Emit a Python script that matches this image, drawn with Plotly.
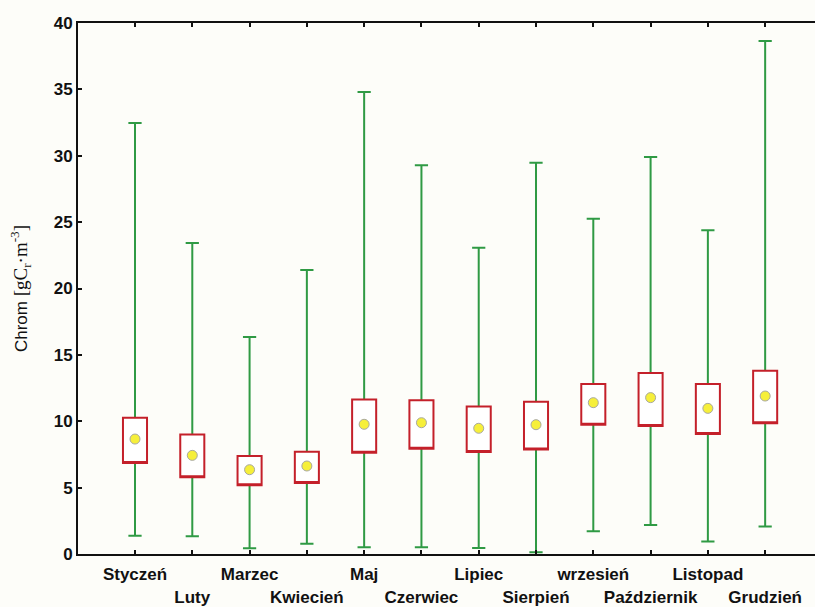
import plotly.graph_objects as go

months = ["Styczeń", "Luty", "Marzec", "Kwiecień", "Maj", "Czerwiec",
          "Lipiec", "Sierpień", "wrzesień", "Październik", "Listopad", "Grudzień"]
mean_vals = [8.66, 7.43, 6.35, 6.63, 9.77, 9.89, 9.47, 9.74, 11.40, 11.78, 10.97, 11.90]
box_low = [6.85, 5.78, 5.17, 5.35, 7.63, 7.93, 7.68, 7.88, 9.74, 9.64, 9.04, 9.84]
box_high = [10.27, 9.01, 7.38, 7.71, 11.63, 11.58, 11.12, 11.47, 12.81, 13.63, 12.81, 13.81]
min_vals = [1.38, 1.33, 0.43, 0.78, 0.50, 0.50, 0.45, 0.13, 1.71, 2.18, 0.95, 2.08]
max_vals = [32.47, 23.43, 16.35, 21.39, 34.80, 29.28, 23.07, 29.48, 25.26, 29.91, 24.38, 38.64]
y_ticks = [0, 5, 10, 15, 20, 25, 30, 35, 40]

pos = list(range(len(months)))
tick_text = [m if i % 2 == 0 else "<br>" + m for i, m in enumerate(months)]

GREEN = "#2f9a44"
RED = "#c4202a"
BG = "#fdfdf9"
FONT = "Liberation Sans, Arial, sans-serif"
SERIF = "Liberation Serif, Times New Roman, serif"

fig = go.Figure()

# whiskers (green), box collapsed to mean line, hidden under red box
fig.add_trace(go.Box(
    x=pos, q1=mean_vals, median=mean_vals, q3=mean_vals,
    lowerfence=min_vals, upperfence=max_vals,
    width=0.42, whiskerwidth=0.55,
    line=dict(color=GREEN, width=2), fillcolor="rgba(0,0,0,0)",
    boxpoints=False, showlegend=False, hoverinfo="skip"))

# red boxes
fig.add_trace(go.Box(
    x=pos, q1=box_low, median=box_low, q3=box_high,
    lowerfence=box_low, upperfence=box_high,
    width=0.42, whiskerwidth=0,
    line=dict(color=RED, width=2), fillcolor="white",
    boxpoints=False, showlegend=False, hoverinfo="skip"))

# mean markers
fig.add_trace(go.Scatter(
    x=pos, y=mean_vals, mode="markers",
    marker=dict(color="#f6ef3a", size=10, line=dict(color="#a8a8a0", width=1)),
    showlegend=False))

fig.update_layout(
    width=815, height=607,
    margin=dict(l=78, r=0, t=23, b=53),
    paper_bgcolor=BG, plot_bgcolor=BG,
    boxmode="overlay",
    font=dict(family=FONT, color="#111111"),
)
fig.update_xaxes(
    range=[-0.995, 11.87], tickvals=pos, ticktext=tick_text,
    tickangle=0, automargin=False, ticklabelstandoff=4,
    showline=True, linecolor="#111111", linewidth=2, mirror="ticks",
    ticks="inside", ticklen=4, tickcolor="#111111", tickwidth=2,
    showgrid=False, zeroline=False,
    tickfont=dict(size=17, family=FONT, weight="bold"),
)
fig.update_yaxes(
    range=[0, 40], tickvals=y_ticks, ticktext=[str(v) for v in y_ticks],
    automargin=False,
    showline=True, linecolor="#111111", linewidth=2, mirror=False,
    ticks="inside", ticklen=4, tickcolor="#111111", tickwidth=2,
    showgrid=False, zeroline=False,
    tickfont=dict(size=17, family=FONT, weight="bold"),
    title=dict(text="Chrom <span style=\"font-family:" + SERIF + ";font-size:19px\">[gC<sub>r</sub>·m<sup>-3</sup>]</span>",
               font=dict(size=17, family=FONT),
               standoff=22),
)

fig.write_html("out.html", config={"displayModeBar": False},
               post_script="document.body.style.margin='0';")
